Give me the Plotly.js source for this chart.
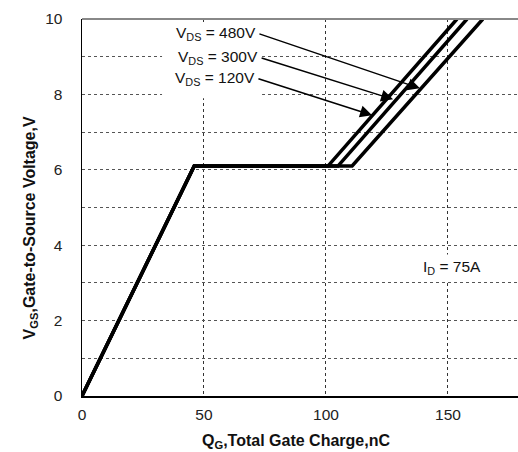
<!DOCTYPE html>
<html>
<head>
<meta charset="utf-8">
<script src="https://cdn.plot.ly/plotly-3.0.1.min.js"></script>
<style>html,body{margin:0;padding:0;background:#fff;}#chart{width:518px;height:452px;}</style>
</head>
<body>
<div id="chart"></div>
<script>
// Gate charge curves (QG in nC, VGS in V)
const seriesNames = ["VDS = 120V", "VDS = 300V", "VDS = 480V"];
const qg120 = [0, 46, 100.8, 153.7];
const vgs120 = [0, 6.1, 6.1, 10];
const qg300 = [0, 46, 104.9, 157.8];
const vgs300 = [0, 6.1, 6.1, 10];
const qg480 = [0, 46, 110.7, 164.3];
const vgs480 = [0, 6.1, 6.1, 10];

// Label arrow tails (at text) and heads (on curves)
const arrowLabels = ["V<sub>DS</sub> = 480V", "V<sub>DS</sub> = 300V", "V<sub>DS</sub> = 120V"];
const arrowTailX = [72.1, 73.0, 71.7];
const arrowTailY = [9.62, 8.98, 8.43];
const arrowHeadX = [138.5, 127.5, 118.9];
const arrowHeadY = [8.16, 7.87, 7.45];

const xTicks = [0, 50, 100, 150];
const yTicks = [0, 2, 4, 6, 8, 10];

const FONT = "Liberation Sans, Arial, sans-serif";

const mk = (x, y, name) => ({
  x: x, y: y, name: name, type: "scatter", mode: "lines",
  line: {color: "#000", width: 3.5}, showlegend: false, hoverinfo: "skip"
});
const traces = [mk(qg120, vgs120, seriesNames[0]), mk(qg300, vgs300, seriesNames[1]), mk(qg480, vgs480, seriesNames[2])];

const annotations = [];
for (let i = 0; i < arrowLabels.length; i++) {
  annotations.push({
    x: arrowTailX[i], y: arrowTailY[i], xref: "x", yref: "y",
    text: arrowLabels[i], showarrow: false, xanchor: "right", yanchor: "middle",
    font: {family: FONT, size: 15.5, color: "#111"}
  });
  annotations.push({
    x: arrowHeadX[i], y: arrowHeadY[i], ax: arrowTailX[i], ay: arrowTailY[i],
    axref: "x", ayref: "y", xref: "x", yref: "y", text: "",
    showarrow: true, arrowhead: 2, arrowsize: 1.6, arrowwidth: 1.5, arrowcolor: "#000", standoff: 0, startstandoff: 0
  });
}
annotations.push({
  x: 151.5, y: 3.4, xref: "x", yref: "y", text: "I<sub>D</sub> = 75A", showarrow: false,
  font: {family: FONT, size: 15.5, color: "#111"}, bgcolor: "#fff", borderpad: 3
});
annotations.push({
  x: 0.49, y: -0.12, xref: "paper", yref: "paper", xanchor: "center", yanchor: "middle",
  text: "<b>Q<sub>G</sub>,Total Gate Charge,nC</b>", showarrow: false,
  font: {family: FONT, size: 16, color: "#111"}
});
annotations.push({
  x: -0.118, y: 0.446, xref: "paper", yref: "paper", xanchor: "center", yanchor: "middle",
  text: "<b>V<sub>GS</sub>,Gate-to-Source Voltage,V</b>", showarrow: false, textangle: -90,
  font: {family: FONT, size: 16, color: "#111"}
});

const layout = {
  width: 518, height: 452,
  margin: {l: 82, r: 0, t: 18.5, b: 55.5},
  paper_bgcolor: "#fff", plot_bgcolor: "#fff",
  font: {family: FONT, size: 15, color: "#222"},
  xaxis: {
    range: [0, 178.7], tickvals: xTicks, ticks: "", showgrid: true,
    gridcolor: "#333", griddash: "dot", gridwidth: 1, zeroline: false,
    showline: true, linecolor: "#000", linewidth: 1.5, ticklabelstandoff: 4,
    tickfont: {family: FONT, size: 15.5, color: "#222"}
  },
  yaxis: {
    range: [0, 10], tickvals: yTicks, ticks: "", showgrid: true,
    gridcolor: "#555", griddash: "dot", gridwidth: 1, zeroline: false,
    showline: true, linecolor: "#000", linewidth: 1.5, ticklabelstandoff: 15,
    minor: {dtick: 1, showgrid: true, gridcolor: "#555", griddash: "dot", gridwidth: 1, ticks: ""},
    tickfont: {family: FONT, size: 15.5, color: "#222"}
  },
  shapes: [
    {type: "rect", xref: "x", yref: "y", x0: 32.8, x1: 73.8, y0: 7.9, y1: 9.92, layer: "between",
     fillcolor: "#fff", line: {width: 0}},
    {type: "line", xref: "paper", yref: "paper", x0: 0, x1: 1, y0: 1, y1: 1, line: {color: "#888", width: 2}}
  ],
  annotations: annotations,
  showlegend: false
};

Plotly.newPlot("chart", traces, layout, {staticPlot: true, displayModeBar: false});
</script>
</body>
</html>
